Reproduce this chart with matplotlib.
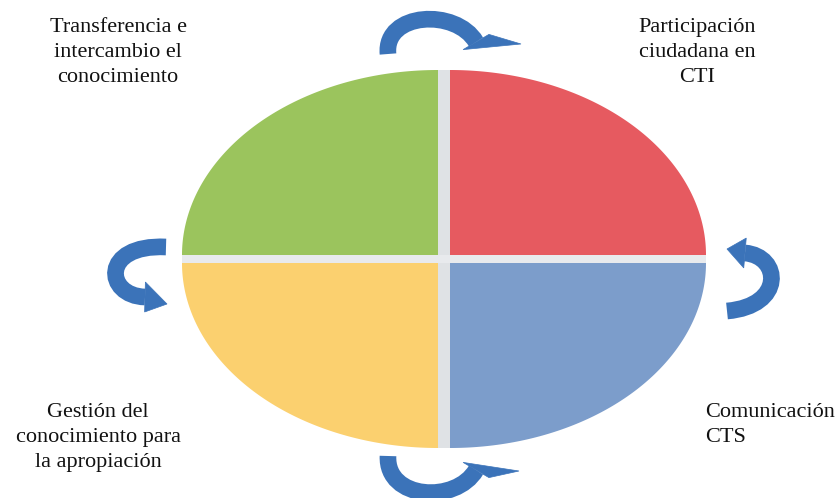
import matplotlib
matplotlib.use("Agg")
import matplotlib.pyplot as plt
import numpy as np
from matplotlib.path import Path
from matplotlib.patches import PathPatch, Polygon, Rectangle

W, H = 835, 498

# quadrants: top-left, top-right, bottom-left, bottom-right
QUAD_SIGNS = [(-1, -1), (1, -1), (-1, 1), (1, 1)]
QUAD_COLORS = ["#9bc45d", "#e65a60", "#fbd06f", "#7c9dcb"]
LABELS = [
    "Transferencia e\nintercambio el\nconocimiento",
    "Participación\nciudadana en\nCTI",
    "Gestión del\nconocimiento para\nla apropiación",
    "Comunicación\nCTS",
]
# label anchor (x, first baseline y, alignment)
LABEL_POS = [(118, 32, "center"), (697, 32, "center"),
             (98, 417, "center"), (705, 417, "left")]
LINE_STEP = 25

# ellipse geometry (pixels)
CX, CY = 444, 259
A, B = 256, 185
GAP_X, GAP_Y = 12, 8

ARROW_COLOR = "#3b73b9"
# body bezier (4 pts) + head tip, per arrow: top, left, right, bottom
ARROWS = [
    ([(388, 54), (384, 12), (456, 8), (476, 42)], (521, 44)),
    ([(166, 247), (100, 244), (105, 296), (145, 297)], (167, 304)),
    ([(727, 311), (785, 306), (781, 256), (745, 253)], (727, 249)),
    ([(388, 456), (386, 500), (456, 504), (476, 470)], (519, 471)),
]


def curved_arrow(ax, body, tip, color, lw=12, head_half=15):
    codes = [Path.MOVETO, Path.CURVE4, Path.CURVE4, Path.CURVE4]
    ax.add_patch(PathPatch(Path(body, codes), fill=False, edgecolor=color,
                           lw=lw, capstyle="butt", zorder=3))
    p2, p3 = np.array(body[-2], float), np.array(body[-1], float)
    d = p3 - p2
    n = np.array([-d[1], d[0]]) / np.linalg.norm(d)
    head = [p3 + n * head_half, np.array(tip, float), p3 - n * head_half]
    ax.add_patch(Polygon(head, closed=True, facecolor=color,
                         edgecolor=color, lw=0.5, zorder=3))


fig = plt.figure(figsize=(W / 100, H / 100), dpi=100)
ax = fig.add_axes([0, 0, 1, 1])
ax.set_xlim(0, W)
ax.set_ylim(H, 0)
ax.axis("off")

# light separators between quadrants
ax.add_patch(Rectangle((CX - GAP_X / 2, CY - GAP_Y / 2 - B), GAP_X, 2 * B + GAP_Y,
                       facecolor="#dfe2e5", edgecolor="none", zorder=1))
ax.add_patch(Rectangle((CX - GAP_X / 2 - A, CY - GAP_Y / 2), 2 * A + GAP_X, GAP_Y,
                       facecolor="#e8eaed", edgecolor="none", zorder=1))

t = np.linspace(0, np.pi / 2, 120)
for (sx, sy), color in zip(QUAD_SIGNS, QUAD_COLORS):
    qx = CX + sx * GAP_X / 2
    qy = CY + sy * GAP_Y / 2
    xs = qx + sx * A * np.cos(t)
    ys = qy + sy * B * np.sin(t)
    pts = np.vstack([[qx, qy], np.column_stack([xs, ys])])
    ax.add_patch(Polygon(pts, closed=True, facecolor=color, edgecolor="none", zorder=2))

for body, tip in ARROWS:
    curved_arrow(ax, body, tip, ARROW_COLOR)

for text, (x, y0, ha) in zip(LABELS, LABEL_POS):
    for i, line in enumerate(text.split("\n")):
        ax.text(x, y0 + i * LINE_STEP, line, ha=ha, va="baseline",
                fontsize=16, family="Liberation Serif", color="#111111")

fig.savefig("out.png", dpi=100)
